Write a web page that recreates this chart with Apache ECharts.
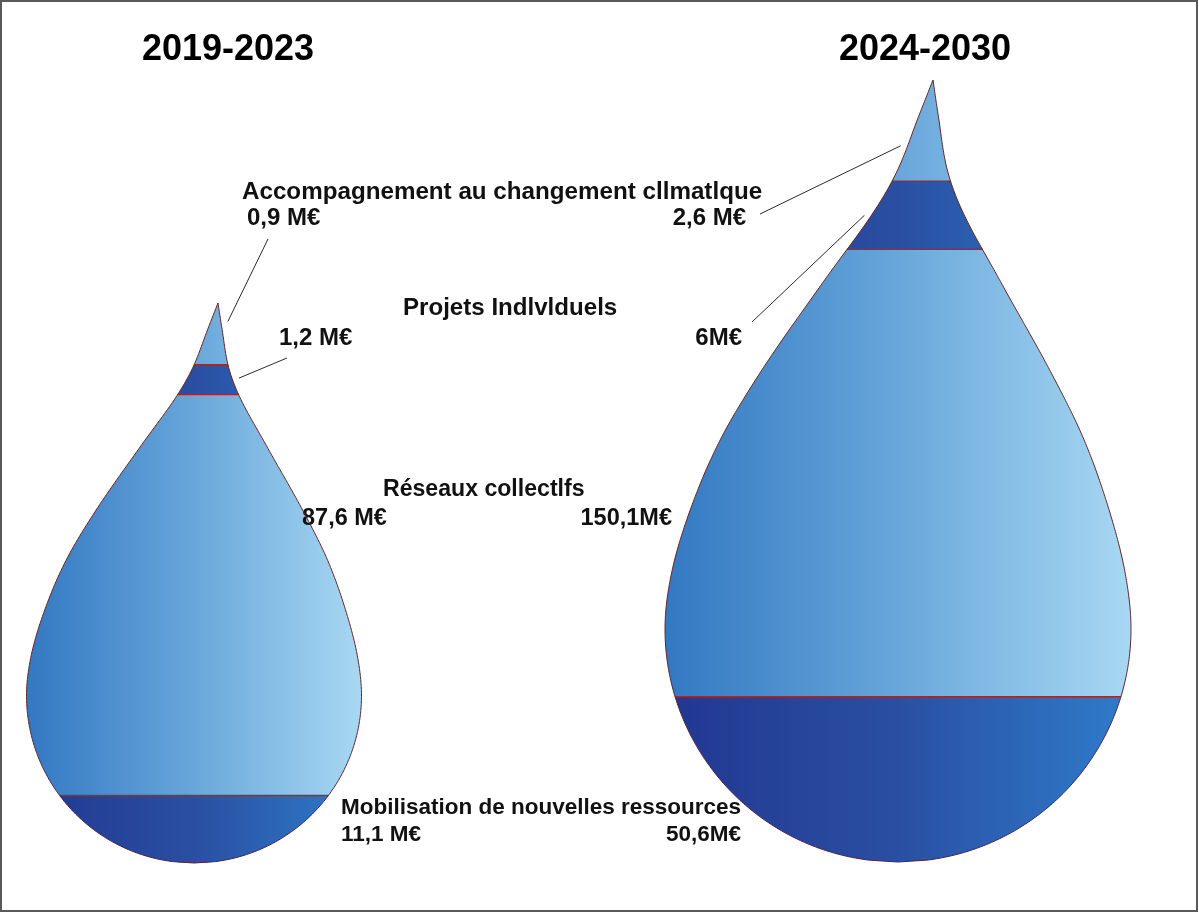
<!DOCTYPE html>
<html><head><meta charset="utf-8">
<script src="https://cdn.jsdelivr.net/npm/echarts@6/dist/echarts.min.js"></script>
<style>html,body{margin:0;padding:0;background:#fff}#c{width:1199px;height:913px}</style>
</head><body><div id="c"></div>
<script>
// ---------- DATA ----------
const periods = ['2019-2023', '2024-2030'];
const categories = ['Accompagnement au changement cllmatlque', 'Projets Indlvlduels', 'Réseaux collectlfs', 'Mobilisation de nouvelles ressources'];
const values2019 = [0.9, 1.2, 87.6, 11.1];
const values2024 = [2.6, 6, 150.1, 50.6];
const unitSep2019 = [' ', ' ', ' ', ' '];
const unitSep2024 = [' ', '', '', ''];

// ---------- LAYOUT ----------
const FONT = '"Liberation Sans", Arial, sans-serif';
const rowFontSize = [24, 24, 23.5, 22.5];
const catFontSize = [24.2, 24.1, 23.1, 22.5];
const drops = [
  { tipX: 218, tipY: 303, bottomY: 863, cx: 194, half: 167.5, values: values2019, sep: unitSep2019,
    labels: [{x:247,y:218,align:'left'},{x:279,y:338,align:'left'},{x:302,y:519,align:'left'},{x:341,y:835,align:'left'}],
    leaders: [{x:268,y:239,f:0.3},{x:287,y:358,f:0.45}], side: 1, titleX: 228 },
  { tipX: 933, tipY: 80, bottomY: 862, cx: 898, half: 233, values: values2024, sep: unitSep2024,
    labels: [{x:746,y:218,align:'right'},{x:742,y:338,align:'right'},{x:672,y:519,align:'right'},{x:741,y:835,align:'right'}],
    leaders: [{x:760,y:214,f:0.65},{x:752,y:322,f:0.5}], side: -1, titleX: 925 }
];
const catPos = [{x:242,y:192},{x:403,y:308},{x:383,y:490},{x:341,y:808}];
const bandKind = ['light', 'dark', 'light', 'dark'];

// normalized drop profile (upper part: s from tip to circle centre, width relative to max)
const profS = [0, 0.0656, 0.1655, 0.2318, 0.3666, 0.535, 0.6548, 0.7846, 0.9016, 1];
const profW = [0, 0.042, 0.108, 0.18, 0.379, 0.627, 0.78, 0.9, 0.975, 1];

function makeMono(xs, ys) {
  const n = xs.length, dx = [], sl = [];
  for (let i = 0; i < n - 1; i++) { dx.push(xs[i+1]-xs[i]); sl.push((ys[i+1]-ys[i])/dx[i]); }
  const m = [sl[0]];
  for (let i = 1; i < n - 1; i++) m.push(sl[i-1]*sl[i] <= 0 ? 0 : (sl[i-1]+sl[i])/2);
  m.push(0);
  for (let i = 0; i < n - 1; i++) {
    if (sl[i] === 0) { m[i] = m[i+1] = 0; continue; }
    const a = m[i]/sl[i], b = m[i+1]/sl[i], s = a*a + b*b;
    if (s > 9) { const t = 3/Math.sqrt(s); m[i] = t*a*sl[i]; m[i+1] = t*b*sl[i]; }
  }
  return x => {
    if (x <= xs[0]) return ys[0];
    if (x >= xs[n-1]) return ys[n-1];
    let i = 0; while (x > xs[i+1]) i++;
    const h = dx[i], t = (x - xs[i]) / h, t2 = t*t, t3 = t2*t;
    return (2*t3-3*t2+1)*ys[i] + (t3-2*t2+t)*h*m[i] + (-2*t3+3*t2)*ys[i+1] + (t3-t2)*h*m[i+1];
  };
}
const prof = makeMono(profS, profW);

// geometry per drop, band limits from cumulative area of values
const geom = drops.map(d => {
  const yc = d.bottomY - d.half;
  const w = y => {
    if (y <= d.tipY) return 0;
    if (y >= d.bottomY) return 0;
    if (y <= yc) return d.half * prof((y - d.tipY) / (yc - d.tipY));
    const dy = y - yc; return Math.sqrt(Math.max(0, d.half*d.half - dy*dy));
  };
  const cxAt = y => {
    if (y >= yc) return d.cx;
    const s = (y - d.tipY) / (yc - d.tipY);
    return d.cx + (d.tipX - d.cx) * (1 - s) * (1 - s);
  };
  const N = 4000, step = (d.bottomY - d.tipY) / N, cum = [0];
  for (let i = 1; i <= N; i++) {
    const y0 = d.tipY + (i-1)*step, y1 = y0 + step;
    cum.push(cum[i-1] + (w(y0) + w(y1)) * step);
  }
  const total = cum[N];
  const sum = d.values.reduce((a, b) => a + b, 0);
  const bounds = [d.tipY]; let acc = 0;
  for (let b = 0; b < d.values.length - 1; b++) {
    acc += d.values[b];
    const target = acc / sum * total;
    let i = 1; while (cum[i] < target) i++;
    const fr = (target - cum[i-1]) / (cum[i] - cum[i-1]);
    bounds.push(d.tipY + (i - 1 + fr) * step);
  }
  bounds.push(d.bottomY);
  return { w, cxAt, bounds, d };
});

const fmt = v => String(v).replace('.', ',');

function gradient(g, api, kind) {
  const x0 = api.coord([g.d.cx - g.d.half, 0])[0], x1 = api.coord([g.d.cx + g.d.half, 0])[0];
  const stops = kind === 'light'
    ? [{offset:0,color:'#3378c2'},{offset:0.45,color:'#62a2d8'},{offset:1,color:'#a8d8f3'}]
    : [{offset:0,color:'#213791'},{offset:0.5,color:'#2a4fa2'},{offset:1,color:'#2f7ccb'}];
  return new echarts.graphic.LinearGradient(x0, 0, x1, 0, stops, true);
}

function renderBand(params, api) {
  const di = api.value(0), b = api.value(1);
  const g = geom[di];
  const ya = g.bounds[b], yb = g.bounds[b+1];
  const n = 120, pts = [];
  for (let i = 0; i <= n; i++) { const y = ya + (yb-ya)*i/n; pts.push(api.coord([g.cxAt(y) - g.w(y), y])); }
  for (let i = n; i >= 0; i--) { const y = ya + (yb-ya)*i/n; pts.push(api.coord([g.cxAt(y) + g.w(y), y])); }
  const children = [{ type: 'polygon', shape: { points: pts }, style: { fill: gradient(g, api, bandKind[b]), stroke: null } }];
  if (b > 0) {
    const p1 = api.coord([g.cxAt(ya) - g.w(ya), ya]), p2 = api.coord([g.cxAt(ya) + g.w(ya), ya]);
    children.push({ type: 'line', shape: { x1: p1[0], y1: p1[1], x2: p2[0], y2: p2[1] }, style: { stroke: '#a3282b', lineWidth: 1.5 } });
  }
  // value label
  const lp = g.d.labels[b];
  children.push({ type: 'text', style: { text: fmt(api.value(2)) + g.d.sep[b] + 'M€', x: lp.x, y: lp.y,
    align: lp.align, verticalAlign: 'middle', font: 'bold ' + rowFontSize[b] + 'px ' + FONT, fill: '#111' } });
  // leader line
  const ld = g.d.leaders[b];
  if (ld) {
    const y = ya + (yb - ya) * ld.f;
    const ex = g.cxAt(y) + g.d.side * (g.w(y) + 7);
    const e = api.coord([ex, y]);
    children.push({ type: 'line', shape: { x1: ld.x, y1: ld.y, x2: e[0], y2: e[1] }, style: { stroke: '#2a2a2a', lineWidth: 1 } });
  }
  return { type: 'group', children };
}

function renderOutline(params, api) {
  const g = geom[api.value(0)];
  const n = 400, pts = [], ya = g.d.tipY, yb = g.d.bottomY;
  for (let i = 0; i <= n; i++) { const y = ya + (yb-ya)*i/n; pts.push(api.coord([g.cxAt(y) - g.w(y), y])); }
  for (let i = n; i >= 0; i--) { const y = ya + (yb-ya)*i/n; pts.push(api.coord([g.cxAt(y) + g.w(y), y])); }
  return { type: 'polygon', shape: { points: pts }, style: { fill: null, stroke: '#5c2326', lineWidth: 1 } };
}

const bandData = [];
drops.forEach((d, di) => d.values.forEach((v, b) => bandData.push([di, b, v])));

const graphics = [
  { type: 'rect', shape: { x: 1, y: 1, width: 1196, height: 910 }, style: { fill: null, stroke: '#5a5a5a', lineWidth: 2 } }
];
periods.forEach((p, i) => graphics.push({ type: 'text', style: { text: p, x: drops[i].titleX, y: 50, align: 'center', verticalAlign: 'middle', font: 'bold 36px ' + FONT, fill: '#000' } }));
categories.forEach((c, i) => graphics.push({ type: 'text', style: { text: c, x: catPos[i].x, y: catPos[i].y, align: 'left', verticalAlign: 'middle', font: 'bold ' + catFontSize[i] + 'px ' + FONT, fill: '#111' } }));

const chart = echarts.init(document.getElementById('c'), null, { renderer: 'canvas' });
chart.setOption({
  animation: false,
  backgroundColor: '#ffffff',
  grid: { left: 0, right: 0, top: 0, bottom: 0 },
  xAxis: { type: 'value', min: 0, max: 1199, show: false },
  yAxis: { type: 'value', min: 0, max: 913, inverse: true, show: false },
  graphic: graphics,
  series: [
    { type: 'custom', name: 'bands', renderItem: renderBand, data: bandData, clip: false, silent: true, z: 2 },
    { type: 'custom', name: 'outline', renderItem: renderOutline, data: [[0], [1]], clip: false, silent: true, z: 3 }
  ]
});
</script></body></html>
